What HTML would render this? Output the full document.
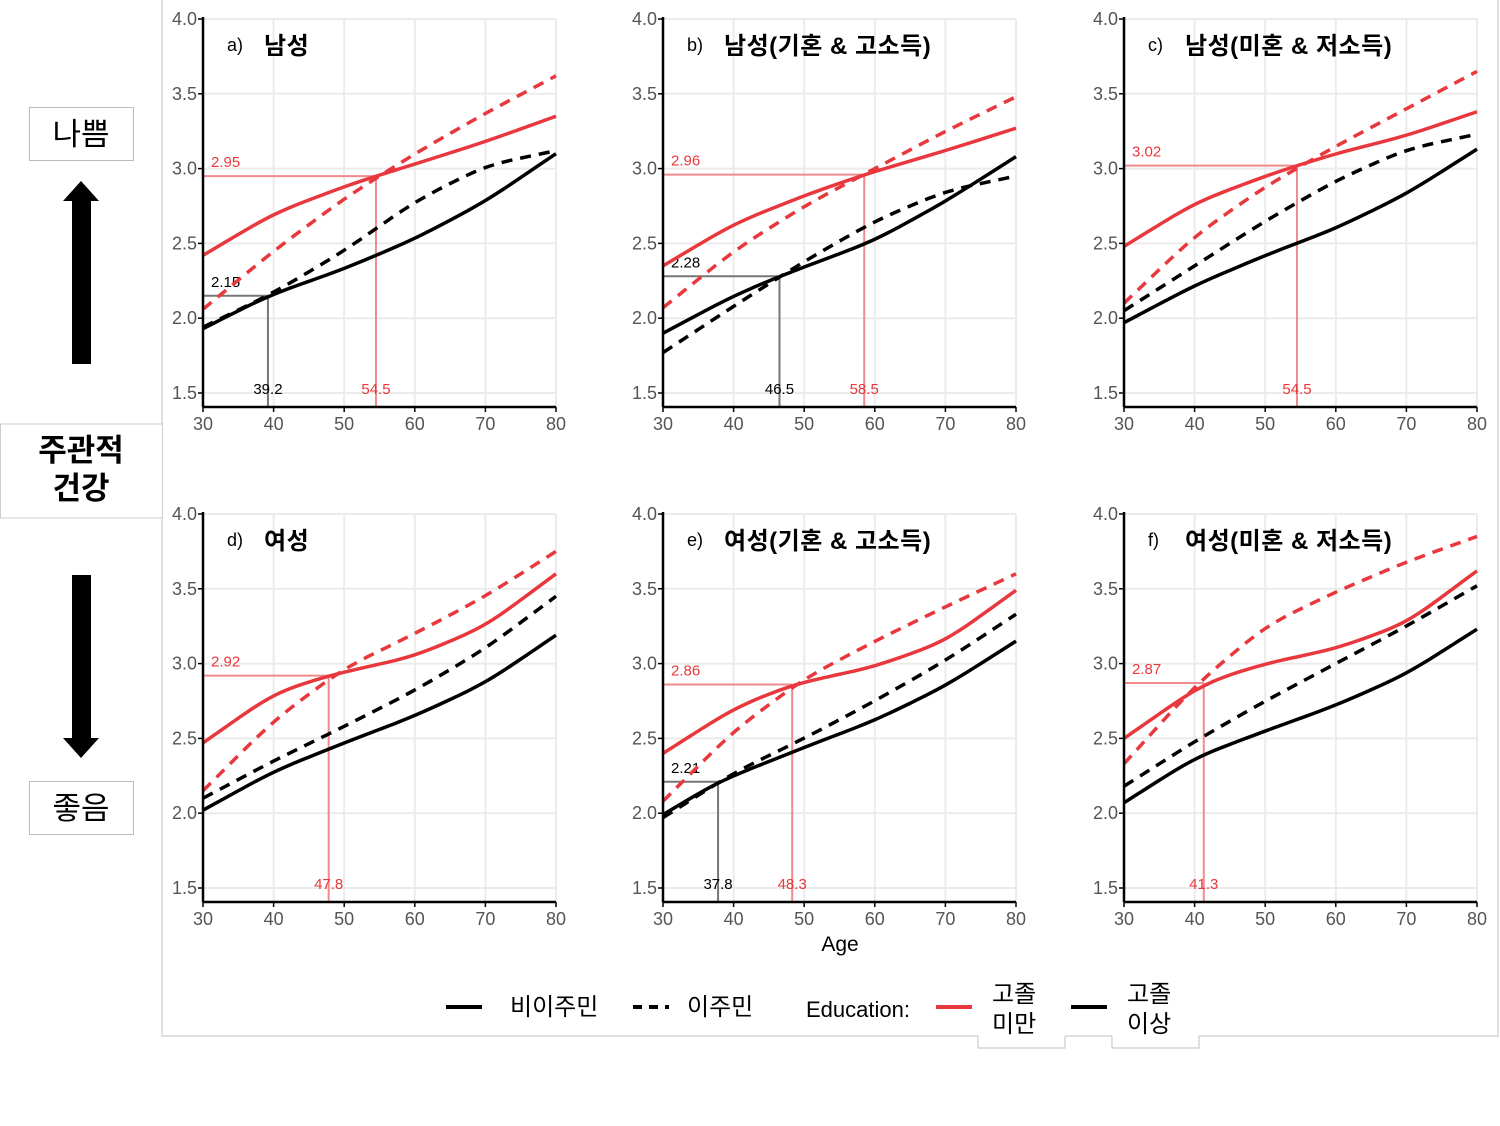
<!DOCTYPE html>
<html><head><meta charset="utf-8"><style>
body{margin:0;background:#fff;}
svg text{font-family:"Liberation Sans","Noto Sans CJK KR",sans-serif;}
</style></head><body>
<svg id="s" width="1500" height="1121" viewBox="0 0 1500 1121" xmlns="http://www.w3.org/2000/svg">
<rect width="1500" height="1121" fill="#fff"/>
<path d="M162 0 V424 M162 518 V1036 H978 M1065 1036 H1112 M1199 1036 H1498 V0" fill="none" stroke="#ccc" stroke-width="1.2"/>
<path d="M978 1036 V1048 H1065 V1036 M1112 1036 V1048 H1199 V1036" fill="none" stroke="#ccc" stroke-width="1.2"/>
<rect x="0.5" y="424" width="162" height="94" fill="#fff" stroke="#ccc"/>
<text x="81" y="461" font-size="31" font-weight="bold" text-anchor="middle">주관적</text>
<text x="81" y="499" font-size="31" font-weight="bold" text-anchor="middle">건강</text>
<rect x="29.5" y="107.5" width="104" height="53" fill="#fff" stroke="#bbb"/>
<text x="81" y="145" font-size="31" text-anchor="middle">나쁨</text>
<rect x="29.5" y="781.5" width="104" height="53" fill="#fff" stroke="#bbb"/>
<text x="81" y="819" font-size="31" text-anchor="middle">좋음</text>
<rect x="72" y="200" width="19" height="164" fill="#000"/>
<polygon points="63,201 81,181 99,201" fill="#000"/>
<rect x="72" y="575" width="19" height="164" fill="#000"/>
<polygon points="63,738 81,758 99,738" fill="#000"/>
<g id="panels"></g>
<text x="840" y="951" font-size="21" text-anchor="middle" fill="#000">Age</text>
<line x1="446" y1="1007" x2="482" y2="1007" stroke="#000" stroke-width="4"/>
<text x="510" y="1015" font-size="24">비이주민</text>
<line x1="633" y1="1007" x2="669" y2="1007" stroke="#000" stroke-width="4" stroke-dasharray="9,7"/>
<text x="687" y="1015" font-size="24">이주민</text>
<text x="806" y="1017" font-size="22">Education:</text>
<line x1="936" y1="1007" x2="972" y2="1007" stroke="#e8383d" stroke-width="4"/>
<text x="992" y="1002" font-size="24">고졸</text>
<text x="992" y="1032" font-size="24">미만</text>
<line x1="1071" y1="1007" x2="1107" y2="1007" stroke="#000" stroke-width="4"/>
<text x="1127" y="1002" font-size="24">고졸</text>
<text x="1127" y="1032" font-size="24">이상</text>
</svg>
<script>
var NS="http://www.w3.org/2000/svg";
var g=document.getElementById("panels");
function el(t,a,txt){var e=document.createElementNS(NS,t);for(var k in a)e.setAttribute(k,a[k]);if(txt!==undefined)e.textContent=txt;g.appendChild(e);return e;}
var P=[
{x0:203,y4:19,lab:"a)",t:"남성",
 rs:[[30,2.42],[40,2.70],[50,2.88],[54.5,2.95],[60,3.03],[70,3.18],[80,3.35]],
 rd:[[30,2.06],[40,2.45],[50,2.80],[60,3.10],[70,3.37],[80,3.62]],
 bs:[[30,1.93],[39.2,2.15],[50,2.33],[60,2.53],[70,2.78],[80,3.10]],
 bd:[[30,1.94],[40,2.17],[50,2.45],[60,2.78],[70,3.02],[80,3.12]],
 mr:[54.5,2.95,"2.95","54.5"],mb:[39.2,2.15,"2.15","39.2"]},
{x0:663,y4:19,lab:"b)",t:"남성(기혼 & 고소득)",
 rs:[[30,2.35],[40,2.63],[50,2.82],[58.5,2.96],[70,3.12],[80,3.27]],
 rd:[[30,2.07],[40,2.45],[50,2.75],[60,3.00],[70,3.25],[80,3.48]],
 bs:[[30,1.90],[40,2.15],[46.5,2.28],[60,2.52],[70,2.78],[80,3.08]],
 bd:[[30,1.77],[40,2.08],[50,2.38],[60,2.65],[70,2.85],[80,2.95]],
 mr:[58.5,2.96,"2.96","58.5"],mb:[46.5,2.28,"2.28","46.5"]},
{x0:1124,y4:19,lab:"c)",t:"남성(미혼 & 저소득)",
 rs:[[30,2.48],[40,2.77],[50,2.95],[54.5,3.02],[60,3.10],[70,3.22],[80,3.38]],
 rd:[[30,2.10],[40,2.55],[50,2.88],[60,3.15],[70,3.40],[80,3.65]],
 bs:[[30,1.97],[40,2.22],[50,2.42],[60,2.60],[70,2.83],[80,3.13]],
 bd:[[30,2.05],[40,2.35],[50,2.65],[60,2.92],[70,3.13],[80,3.23]],
 mr:[54.5,3.02,"3.02","54.5"]},
{x0:203,y4:514,lab:"d)",t:"여성",
 rs:[[30,2.47],[40,2.80],[47.8,2.92],[60,3.05],[70,3.25],[80,3.60]],
 rd:[[30,2.15],[40,2.62],[50,2.97],[60,3.20],[70,3.45],[80,3.75]],
 bs:[[30,2.02],[40,2.28],[50,2.47],[60,2.65],[70,2.87],[80,3.19]],
 bd:[[30,2.10],[40,2.35],[50,2.58],[60,2.82],[70,3.10],[80,3.45]],
 mr:[47.8,2.92,"2.92","47.8"]},
{x0:663,y4:514,lab:"e)",t:"여성(기혼 & 고소득)",
 rs:[[30,2.40],[40,2.70],[48.3,2.86],[60,2.98],[70,3.15],[80,3.49]],
 rd:[[30,2.08],[40,2.55],[50,2.90],[60,3.15],[70,3.38],[80,3.60]],
 bs:[[30,1.99],[37.8,2.21],[50,2.44],[60,2.62],[70,2.85],[80,3.15]],
 bd:[[30,1.97],[40,2.27],[50,2.50],[60,2.75],[70,3.02],[80,3.33]],
 mr:[48.3,2.86,"2.86","48.3"],mb:[37.8,2.21,"2.21","37.8"]},
{x0:1124,y4:514,lab:"f)",t:"여성(미혼 & 저소득)",
 rs:[[30,2.50],[41.3,2.87],[50,3.00],[60,3.10],[70,3.27],[80,3.62]],
 rd:[[30,2.33],[40,2.85],[50,3.25],[60,3.48],[70,3.68],[80,3.85]],
 bs:[[30,2.07],[40,2.37],[50,2.55],[60,2.72],[70,2.93],[80,3.23]],
 bd:[[30,2.18],[40,2.48],[50,2.75],[60,3.00],[70,3.25],[80,3.52]],
 mr:[41.3,2.87,"2.87","41.3"]}
];
var XS=7.06,YS=149.6,RED="#e8383d";
P.forEach(function(p){
 var X=function(a){return p.x0+(a-30)*XS;},Y=function(v){return p.y4+(4-v)*YS;};
 var bot=p.y4+388,right=X(80);
 for(var a=30;a<=80;a+=10)el("line",{x1:X(a),y1:p.y4,x2:X(a),y2:bot,stroke:"#ebebeb","stroke-width":2});
 for(var v=1.5;v<=4.01;v+=0.5)el("line",{x1:p.x0,y1:Y(v),x2:right,y2:Y(v),stroke:"#ebebeb","stroke-width":2});
 for(var a=30;a<=80;a+=10){el("line",{x1:X(a),y1:bot,x2:X(a),y2:bot+5,stroke:"#000","stroke-width":1.5});el("text",{x:X(a),y:bot+23,"font-size":18,"text-anchor":"middle",fill:"#555"},""+a);}
 for(var v=1.5;v<=4.01;v+=0.5){el("line",{x1:p.x0-5,y1:Y(v),x2:p.x0,y2:Y(v),stroke:"#000","stroke-width":1.5});el("text",{x:p.x0-6,y:Y(v)+6,"font-size":18,"text-anchor":"end",fill:"#555"},v.toFixed(1));}
 el("text",{x:p.x0+24,y:p.y4+32,"font-size":18,fill:"#000"},p.lab);
 el("text",{x:p.x0+61,y:p.y4+35,"font-size":24,"font-weight":"bold",fill:"#000","letter-spacing":"0.5"},p.t);
 function mark(m,c,lc){
  el("line",{x1:p.x0,y1:Y(m[1]),x2:X(m[0]),y2:Y(m[1]),stroke:lc,"stroke-width":2});
  el("line",{x1:X(m[0]),y1:Y(m[1]),x2:X(m[0]),y2:bot,stroke:lc,"stroke-width":2});
  el("text",{x:p.x0+8,y:Y(m[1])-9,"font-size":15,fill:c},m[2]);
  el("text",{x:X(m[0]),y:p.y4+375,"font-size":15,fill:c,"text-anchor":"middle"},m[3]);
 }
 if(p.mb)mark(p.mb,"#000","#777");
 mark(p.mr,RED,"#f08a8d");
 function path(pts){
  // resample with monotone-ish linear interp then smooth via Catmull-Rom on uniform grid
  var q=[];
  for(var a=30;a<=80.001;a+=2.5){
   var i=0;while(i<pts.length-2&&pts[i+1][0]<a)i++;
   var t=(a-pts[i][0])/(pts[i+1][0]-pts[i][0]);
   q.push([a,pts[i][1]+t*(pts[i+1][1]-pts[i][1])]);
  }
  // light smoothing
  for(var k=0;k<2;k++){var r=q.map(function(d){return d.slice();});for(var j=1;j<q.length-1;j++)r[j][1]=(q[j-1][1]+2*q[j][1]+q[j+1][1])/4;q=r;}
  q=q.map(function(d){return [X(d[0]),Y(d[1])];});
  var s="M"+q[0][0]+" "+q[0][1];
  for(var i=0;i<q.length-1;i++){
   var p0=q[i>0?i-1:i],p1=q[i],p2=q[i+1],p3=q[i+2<q.length?i+2:i+1];
   var c1=[p1[0]+(p2[0]-p0[0])/6,p1[1]+(p2[1]-p0[1])/6],c2=[p2[0]-(p3[0]-p1[0])/6,p2[1]-(p3[1]-p1[1])/6];
   s+=" C"+c1[0]+" "+c1[1]+" "+c2[0]+" "+c2[1]+" "+p2[0]+" "+p2[1];
  }
  return s;
 }
 el("path",{d:path(p.bd),fill:"none",stroke:"#000","stroke-width":3.5,"stroke-dasharray":"11,8"});
 el("path",{d:path(p.bs),fill:"none",stroke:"#000","stroke-width":3.5});
 el("path",{d:path(p.rd),fill:"none",stroke:RED,"stroke-width":3.5,"stroke-dasharray":"11,8"});
 el("path",{d:path(p.rs),fill:"none",stroke:RED,"stroke-width":3.5});
 el("line",{x1:p.x0,y1:p.y4-2,x2:p.x0,y2:bot,stroke:"#000","stroke-width":2.5});
 el("line",{x1:p.x0,y1:bot,x2:right,y2:bot,stroke:"#000","stroke-width":2.5});
});
</script>
</body></html>
